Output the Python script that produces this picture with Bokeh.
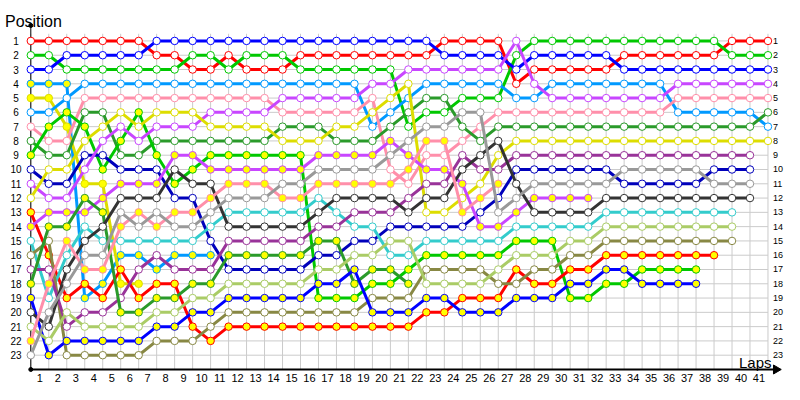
from bokeh.plotting import figure
from bokeh.models import Range1d, ColumnDataSource
from bokeh.core.properties import value
from bokeh.embed import file_html
from bokeh.resources import INLINE

# ---------------- data (positions per lap, starting at lap 0) ----------------
lap_numbers = [1, 2, 3, 4, 5, 6, 7, 8, 9, 10, 11, 12, 13, 14, 15, 16, 17, 18, 19, 20,
               21, 22, 23, 24, 25, 26, 27, 28, 29, 30, 31, 32, 33, 34, 35, 36, 37, 38, 39, 40, 41]
positions = [1, 2, 3, 4, 5, 6, 7, 8, 9, 10, 11, 12, 13, 14, 15, 16, 17, 18, 19, 20, 21, 22, 23]

red_a = [1,1,1,1,1,1,1,2,2,3,3,2,3,3,3,2,2,2,2,2,2,2,2,1,1,1,1,4,3,3,3,3,3,2,2,2,2,2,2,1,1,1]
green_a = [2,2,3,3,3,3,3,3,3,2,2,3,2,2,2,3,3,3,3,3,3,7,6,6,5,5,5,2,1,1,1,1,1,1,1,1,1,1,1,2,2,2]
blue_a = [3,3,2,2,2,2,2,1,1,1,1,1,1,1,1,1,1,1,1,1,1,1,1,2,2,2,2,3,2,2,2,2,2,3,3,3,3,3,3,3,3,3]
lblue_b = [4,4,4,19,18,16,16,17,16,16,16]
yellow_b = [5,5,7,11,11,18,18]
lblue_a = [6,6,5,4,4,4,4,4,4,4,4,4,4,4,4,4,4,4,4,7,6,5,4,4,4,4,4,5,5,4,4,4,4,4,4,4,6,6,6,6,6,7]
pink_a = [7,8,8,5,5,5,5,5,5,5,5,5,5,5,6,6,6,6,6,5,10,11,9,9,8,7,6,6,6,6,6,6,6,6,6,6,5,5,5,5,5,5]
dgreen_a = [8,9,9,6,6,9,9,8,8,8,8,8,8,8,7,7,7,8,8,8,7,6,5,5,7,8,7,7,7,7,7,7,7,7,7,7,7,7,7,7,7,6]
green_b = [9,7,6,7,10,8,6,9,11,10,9,9,9,9,9,9,19,19,19,18,18,17,16,16,16,16,16,15,15,15,19,19,18,18,17,17,17,17]
dblue_a = [10,11,11,9,9,10,10,10,12,12,15,17,17,17,17,17,16,16,15,15,14,14,14,14,14,13,12,10,10,10,10,10,10,11,11,11,11,11,10,10,10]
purple_a = [11,12,12,10,8,7,8,7,7,7,6,6,6,6,5,5,5,5,5,4,4,3,3,3,3,3,3,1,4,5,5,5,5,5,5,5,4,4,4,4,4,4]
yellow_a = [12,10,10,8,7,6,7,6,6,6,7,7,7,7,8,8,8,7,7,6,5,4,13,13,12,11,9,8,8,8,8,8,8,8,8,8,8,8,8,8,8,8]
red_b = [13,16,19,18,19,17,19,18,18,21,22,21,21,21,21,21,21,21,21,21,21,21,20,20,19,19,19,17,18,18,17,17,16,16,16,16,16,16,16]
purple_b = [14,13,13,13,12,11,11,11,9,9,10,10,10,10,10,10,9,9,9,9,8,9,10,10,11,14,14,13,12,12,12,12]
teal_a = [15,19,16,14,15,15,15,15,15,15,14,13,13,13,13,13,12,13,14,14,16,16,15,15,15,15,15,14,14,14,14,14,13,13,13,13,13,13,13,13]
olive_a = [16,15,23,23,23,23,23,22,22,22,21,20,20,20,20,20,20,20,20,19,19,19,17,17,17,17,18,18,17,17,16,16,15,15,15,15,15,15,15,15]
dpurple_a = [17,17,21,20,20,19,17,16,17,17,17,15,15,15,15,15,14,14,13,13,13,12,11,11,9,10,10,9,9,9,9,9,9,9,9,9,9,9,9,9,9]
dgreen_b = [18,14,14,12,13,20,20,19,19,18,18,16,16,16,16,16,15,15,18,17,17,18]
blue_b = [19,23,22,22,22,22,22,21,21,20,20,19,19,19,19,19,18,18,17,20,20,20,19,19,20,20,20,19,19,19,18,18,17,17,18,18,18,18]
dgray_a = [20,21,17,15,14,12,12,12,10,11,11,14,14,14,14,14,13,12,12,12,12,13,12,12,10,9,8,11,13,13,13,13,12,12,12,12,12,12,12,12,12]
lgreen_a = [21,22,20,21,21,21,21,20,20,19,19,18,18,18,18,18,17,17,16,16,15,15,18,18,18,18,17,16,16,16,15,15,14,14,14,14,14,14,14,14]
pink_b = [22,18,15,17,17,14,13,14,13,13,12,11,11,11,12,12,11,11,11,11,11,10,8,8,13,12,11]
gray_a = [23,20,18,16,16,13,14,13,14,14,13,12,12,12,11,11,10,10,10,10,9,8,7,7,6,6,13,12,11,11,11,11,11,10,10,10,10,10,11,11,11]

series = [red_a, green_a, blue_a, lblue_b, yellow_b, lblue_a, pink_a, dgreen_a, green_b,
          dblue_a, purple_a, yellow_a, red_b, purple_b, teal_a, olive_a, dpurple_a,
          dgreen_b, blue_b, dgray_a, lgreen_a, pink_b, gray_a]
line_colors = ["#FF0000", "#00C800", "#0000FF", "#0099FF", "#DDDD00", "#0099FF", "#FF8FAA",
               "#2A9A2A", "#00C800", "#0000BB", "#C846FF", "#DDDD00", "#FF0000", "#C846FF",
               "#33CCCC", "#888844", "#993399", "#2A9A2A", "#0000FF", "#333333", "#AACC66",
               "#FF8FAA", "#999999"]
fill_colors = ["white", "white", "white", "#FFFF00", "#FFFF00", "white", "white", "white",
               "#FFFF00", "white", "white", "white", "#FFFF00", "#FFFF00", "white", "white",
               "white", "#FFFF00", "#FFFF00", "white", "white", "#FFFF00", "white"]

last_lap = 41
bottom_pos = 24
# -----------------------------------------------------------------------------

FONT = value("Liberation Sans")

p = figure(width=784, height=384, output_backend="svg", toolbar_location=None,
           x_range=Range1d(-1.6852, 41.919), y_range=Range1d(25.051, -1.8306),
           x_axis_location=None, y_axis_location=None, title=None, min_border=0)
p.outline_line_color = None
p.grid.visible = False
p.background_fill_color = "white"
p.border_fill_color = "white"

# grid lines
lap_lines = [0] + lap_numbers
p.segment(x0=lap_lines, y0=[0.5] * len(lap_lines), x1=lap_lines, y1=[bottom_pos] * len(lap_lines),
          line_color="#CBCBCB", line_width=1)
p.segment(x0=[0] * len(positions), y0=positions, x1=[last_lap] * len(positions), y1=positions,
          line_color="#CBCBCB", line_width=1)

# axis lines
p.segment(x0=[0], y0=[-0.08], x1=[0], y1=[bottom_pos], line_color="black", line_width=1)
p.segment(x0=[0], y0=[bottom_pos], x1=[41.55], y1=[bottom_pos], line_color="black", line_width=2)
p.scatter(x=[0, 0], y=[-0.08, bottom_pos], size=4, marker="circle", color="black")
p.scatter(x=[41.45], y=[bottom_pos], size=9, marker="triangle", angle=-1.5708, color="black")

# data
for vals, lc, fc in zip(series, line_colors, fill_colors):
    src = ColumnDataSource(dict(x=list(range(len(vals))), y=vals))
    p.line("x", "y", source=src, line_color=lc, line_width=3)
    p.scatter("x", "y", source=src, size=7.5, marker="circle", fill_color=fc,
              line_color=lc, line_width=1)

# tick labels
p.text(x=[n - 0.5 for n in lap_numbers], y=[24.561] * len(lap_numbers),
       text=[str(n) for n in lap_numbers], text_font=FONT, text_font_size=value("11px"),
       text_align="center", text_baseline="middle", text_color="black")
p.text(x=[-0.823] * len(positions), y=positions, text=[str(v) for v in positions],
       text_font=FONT, text_font_size=value("10px"), text_align="center",
       text_baseline="middle", text_color="black")
p.text(x=[41.279] * len(positions), y=positions, text=[str(v) for v in positions],
       text_font=FONT, text_font_size=value("9px"), text_align="left",
       text_baseline="middle", text_color="black")

# axis titles
p.text(x=[-1.435], y=[-0.3815], text=["Position"], text_font=FONT,
       text_font_size=value("16px"), text_align="left", text_baseline="alphabetic",
       text_color="black")
p.text(x=[41.196], y=[23.511], text=["Laps"], text_font=FONT,
       text_font_size=value("15px"), text_align="right", text_baseline="alphabetic",
       text_color="black")

open("out.html", "w").write(file_html(p, INLINE))
